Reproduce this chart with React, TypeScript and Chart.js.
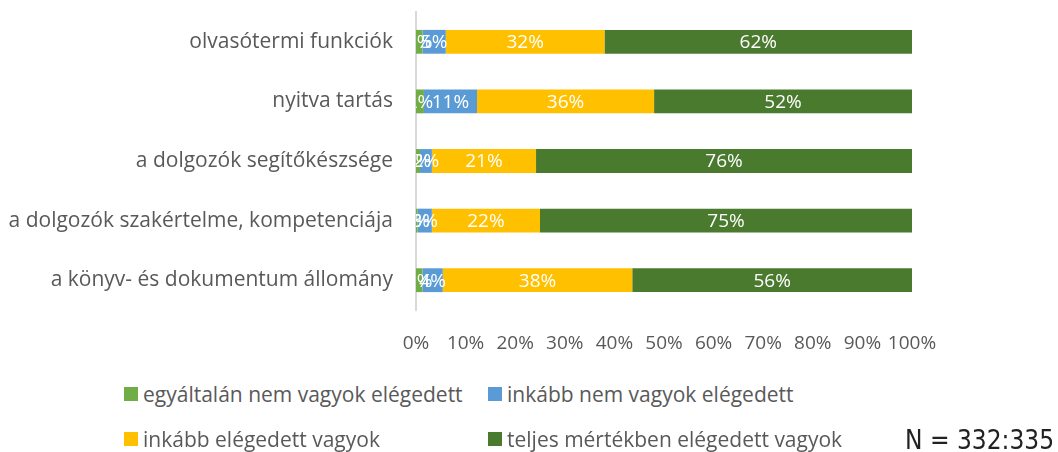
import React, { useEffect, useRef } from "react";
import { Chart, registerables } from "chart.js";

Chart.register(...registerables);

const categories = [
  "olvasótermi funkciók",
  "nyitva tartás",
  "a dolgozók segítőkészsége",
  "a dolgozók szakértelme, kompetenciája",
  "a könyv- és dokumentum állomány",
];
const seriesNames = [
  "egyáltalán nem vagyok elégedett",
  "inkább nem vagyok elégedett",
  "inkább elégedett vagyok",
  "teljes mértékben elégedett vagyok",
];
const notAtAll = [1.3, 1.6, 0.8, 0.3, 1.3];
const ratherNot = [4.7, 10.7, 2.4, 2.9, 4.1];
const rather = [32, 35.7, 21, 21.8, 38.2];
const fully = [62, 52, 75.8, 75, 56.4];
const seriesColors = ["#70AD47", "#5B9BD5", "#FFC000", "#4A7A2E"];
const xTicks = [0, 10, 20, 30, 40, 50, 60, 70, 80, 90, 100];
const noteText = "N = 332:335";

const FONT = "'Open Sans', sans-serif";

const labelPlugin = {
  id: "segLabels",
  afterDatasetsDraw(chart: any) {
    const ctx = chart.ctx;
    const area = chart.chartArea;
    ctx.save();
    ctx.beginPath();
    ctx.rect(area.left, area.top, area.right - area.left, area.bottom - area.top);
    ctx.clip();
    ctx.fillStyle = "#FFFFFF";
    ctx.font = `19px ${FONT}`;
    ctx.textAlign = "center";
    ctx.textBaseline = "middle";
    chart.data.datasets.forEach((ds: any, di: number) => {
      const meta = chart.getDatasetMeta(di);
      meta.data.forEach((bar: any, i: number) => {
        const v = ds.data[i];
        const p = bar.getProps(["x", "y", "base"], true);
        const cx = (p.x + p.base) / 2;
        ctx.fillText(`${Math.round(v)}%`, cx, p.y + 1);
      });
    });
    ctx.restore();
  },
};

export default function App() {
  const ref = useRef<HTMLCanvasElement>(null);
  useEffect(() => {
    const values = [notAtAll, ratherNot, rather, fully];
    const chart = new Chart(ref.current!, {
      type: "bar",
      data: {
        labels: categories,
        datasets: seriesNames.map((n, k) => ({
          label: n,
          data: values[k],
          backgroundColor: seriesColors[k],
          borderWidth: 0,
          categoryPercentage: 0.4,
          barPercentage: 1,
        })),
      },
      options: {
        indexAxis: "y",
        animation: false,
        responsive: false,
        maintainAspectRatio: false,
        layout: { padding: { top: 12, right: 146, left: 0, bottom: 0 } },
        plugins: { legend: { display: false }, tooltip: { enabled: false } },
        scales: {
          x: {
            stacked: true,
            min: 0,
            max: 100,
            afterBuildTicks: (s: any) => {
              s.ticks = xTicks.map((v) => ({ value: v }));
            },
            afterFit: (s: any) => {
              s.height = 50;
              s.paddingLeft = 0;
              s.paddingRight = 0;
            },
            grid: { display: false, drawTicks: false },
            border: { display: false },
            ticks: {
              padding: 22,
              color: "#595959",
              font: { family: FONT, size: 19 },
              callback: (v: any) => `${v}%`,
              maxRotation: 0,
              autoSkip: false,
            },
          },
          y: {
            stacked: true,
            afterFit: (s: any) => {
              s.width = 416;
              s.paddingTop = 0;
              s.paddingBottom = 0;
            },
            grid: { display: false, drawTicks: false },
            border: { display: true, color: "#D9D9D9", width: 2 },
            ticks: {
              padding: 23,
              color: "#595959",
              font: { family: FONT, size: 21 },
            },
          },
        },
      },
      plugins: [labelPlugin],
    });
    return () => chart.destroy();
  }, []);

  const legendItem = (k: number, left: number, top: number) => (
    <div
      key={k}
      style={{
        position: "absolute",
        left,
        top,
        height: 24,
        display: "flex",
        alignItems: "center",
        fontFamily: FONT,
        fontSize: 21,
        color: "#595959",
        whiteSpace: "nowrap",
      }}
    >
      <span
        style={{
          display: "inline-block",
          width: 14,
          height: 14,
          background: seriesColors[k],
          marginRight: 5,
        }}
      />
      <span>{seriesNames[k]}</span>
    </div>
  );

  return (
    <div
      style={{
        position: "fixed",
        left: 0,
        top: 0,
        width: 1058,
        height: 452,
        background: "#fff",
      }}
    >
      <canvas ref={ref} width={1058} height={360} style={{ position: "absolute", left: 0, top: 0 }} />
      {legendItem(0, 124, 382)}
      {legendItem(1, 488, 382)}
      {legendItem(2, 124, 427)}
      {legendItem(3, 488, 427)}
      <div
        style={{
          position: "absolute",
          left: 905,
          top: 425,
          fontFamily: "'DejaVu Sans Condensed', sans-serif",
          fontSize: 26,
          lineHeight: "30px",
          color: "#222",
          whiteSpace: "nowrap",
        }}
      >
        {noteText}
      </div>
    </div>
  );
}
